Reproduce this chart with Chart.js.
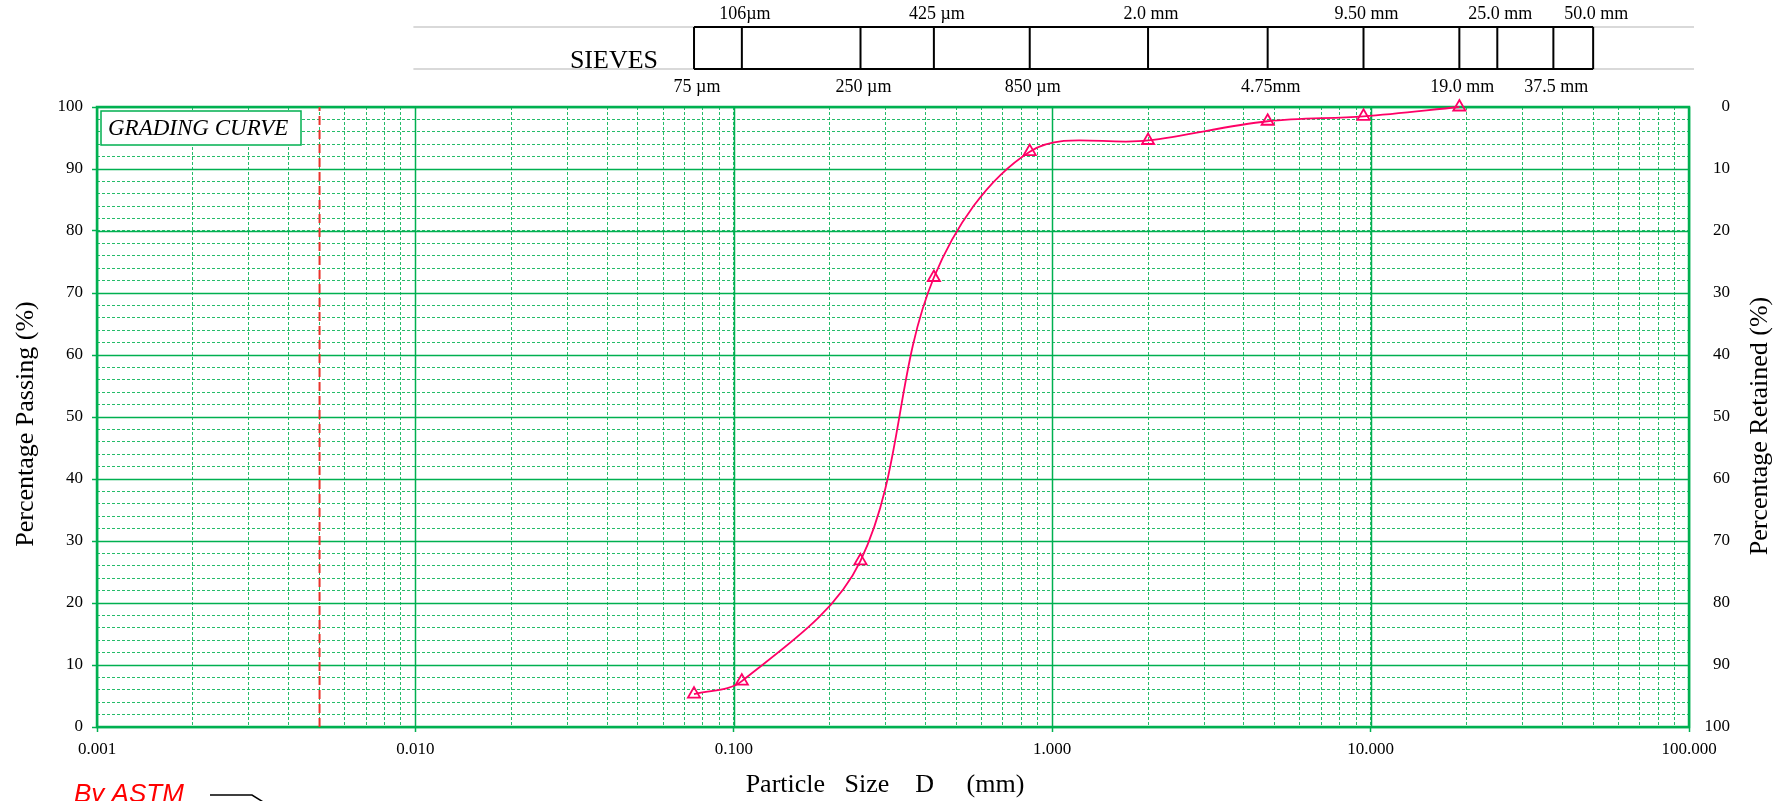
<!DOCTYPE html>
<html>
<head>
<meta charset="utf-8">
<script src="https://cdn.jsdelivr.net/npm/chart.js@4.4.1/dist/chart.umd.min.js"></script>
<style>
  html, body { margin: 0; padding: 0; background: #fff; }
  #wrap { width: 1785px; height: 801px; }
</style>
</head>
<body>
<div id="wrap"><canvas id="grading" width="1785" height="801"></canvas></div>
<script>
// sieve analysis result: particle size (mm) vs % passing
const particleSizes = [0.075, 0.106, 0.25, 0.425, 0.85, 2.0, 4.75, 9.5, 19.0];
const percentPassing = [5.3, 7.4, 26.8, 72.5, 92.8, 94.6, 97.7, 98.5, 100];

// sieve strip drawn above the plot (labels alternate below / above the strip)
const sieveSizes = [0.075, 0.106, 0.25, 0.425, 0.85, 2.0, 4.75, 9.5, 19.0, 25.0, 37.5, 50.0];
const sieveLabels = ['75 µm', '106µm', '250 µm', '425 µm', '850 µm', '2.0 mm', '4.75mm', '9.50 mm', '19.0 mm', '25.0 mm', '37.5 mm', '50.0 mm'];

// clay limit (red dashed line)
const clayLimitX = [0.005, 0.005];
const clayLimitY = [0, 100];

// axis ticks
const xDecades = [0.001, 0.01, 0.1, 1, 10, 100];
const xTickLabels = ['0.001', '0.010', '0.100', '1.000', '10.000', '100.000'];
const yMinorTicks = [0, 2, 4, 6, 8, 10, 12, 14, 16, 18, 20, 22, 24, 26, 28, 30, 32, 34, 36, 38, 40,
  42, 44, 46, 48, 50, 52, 54, 56, 58, 60, 62, 64, 66, 68, 70, 72, 74, 76, 78, 80,
  82, 84, 86, 88, 90, 92, 94, 96, 98, 100];
const yMajorTicks = [0, 10, 20, 30, 40, 50, 60, 70, 80, 90, 100];
const retainedTicks = [0, 10, 20, 30, 40, 50, 60, 70, 80, 90, 100];

const GREEN = '#00B050';
const CURVE = '#FF0066';
const SERIF = '"Liberation Serif", "Times New Roman", serif';

const isDecade = v => xDecades.some(d => Math.abs(d - v) < d * 1e-6);

// grid majors, frame, title box, sieve strip, axis titles
const decorations = {
    id: 'decorations',
    beforeDatasetsDraw(chart) {
        const { ctx, chartArea: a, scales: { x, y } } = chart;
        ctx.save();
        ctx.strokeStyle = GREEN;
        ctx.lineWidth = 1.5;
        ctx.beginPath();
        xDecades.forEach(v => {
            const px = Math.round(x.getPixelForValue(v)) + 0.5;
            ctx.moveTo(px, a.top);
            ctx.lineTo(px, a.bottom);
        });
        yMajorTicks.forEach(v => {
            const py = Math.round(y.getPixelForValue(v)) + 0.5;
            ctx.moveTo(a.left, py);
            ctx.lineTo(a.right, py);
        });
        ctx.stroke();

        ctx.lineWidth = 2.5;
        ctx.strokeRect(a.left, a.top, a.width, a.height);

        // GRADING CURVE label box
        ctx.fillStyle = '#fff';
        ctx.fillRect(a.left + 4, a.top + 4, 200, 34);
        ctx.lineWidth = 1.5;
        ctx.strokeRect(a.left + 4, a.top + 4, 200, 34);
        ctx.fillStyle = '#000';
        ctx.font = 'italic 23px ' + SERIF;
        ctx.textAlign = 'left';
        ctx.textBaseline = 'middle';
        ctx.fillText('GRADING CURVE', a.left + 11, a.top + 22);
        ctx.restore();
    },
    afterDraw(chart) {
        const { ctx, chartArea: a, scales: { x } } = chart;
        ctx.save();

        // sieve strip
        const top = a.top - 80, bottom = a.top - 38;
        ctx.strokeStyle = '#D9D9D9';
        ctx.lineWidth = 2;
        ctx.beginPath();
        ctx.moveTo(x.getPixelForValue(0.01) - 2, top);
        ctx.lineTo(a.right + 5, top);
        ctx.moveTo(x.getPixelForValue(0.01) - 2, bottom);
        ctx.lineTo(a.right + 5, bottom);
        ctx.stroke();

        const first = x.getPixelForValue(sieveSizes[0]);
        const last = x.getPixelForValue(sieveSizes[sieveSizes.length - 1]);
        ctx.strokeStyle = '#000';
        ctx.lineWidth = 2;
        ctx.beginPath();
        ctx.moveTo(first, top);
        ctx.lineTo(last, top);
        ctx.moveTo(first, bottom);
        ctx.lineTo(last, bottom);
        sieveSizes.forEach(s => {
            const px = x.getPixelForValue(s);
            ctx.moveTo(px, top);
            ctx.lineTo(px, bottom);
        });
        ctx.stroke();

        ctx.fillStyle = '#000';
        ctx.font = '18px ' + SERIF;
        ctx.textAlign = 'center';
        ctx.textBaseline = 'middle';
        sieveSizes.forEach((s, i) => {
            const py = i % 2 ? top - 13 : bottom + 18;
            ctx.fillText(sieveLabels[i], x.getPixelForValue(s) + 3, py);
        });

        ctx.font = '26px ' + SERIF;
        ctx.textBaseline = 'alphabetic';
        ctx.textAlign = 'right';
        ctx.fillText('SIEVES', 658, bottom - 1);

        // axis titles
        ctx.textAlign = 'center';
        ctx.textBaseline = 'middle';
        ctx.fillText('Particle   Size    D     (mm)', (a.left + a.right) / 2 - 8, 785);

        ctx.save();
        ctx.translate(26, 424);
        ctx.rotate(-Math.PI / 2);
        ctx.fillText('Percentage Passing (%)', 0, 0);
        ctx.restore();

        ctx.save();
        ctx.translate(1760, 426);
        ctx.rotate(-Math.PI / 2);
        ctx.fillText('Percentage Retained (%)', 0, 0);
        ctx.restore();

        // ASTM note with pointer
        ctx.fillStyle = '#FF0000';
        ctx.font = 'italic 26px "Liberation Sans", Arial, sans-serif';
        ctx.textAlign = 'left';
        ctx.textBaseline = 'alphabetic';
        ctx.fillText('By ASTM', 74, 802);
        ctx.strokeStyle = '#000';
        ctx.lineWidth = 1.5;
        ctx.beginPath();
        ctx.moveTo(210, 795);
        ctx.lineTo(252, 795);
        ctx.lineTo(268, 805);
        ctx.stroke();

        ctx.restore();
    }
};

new Chart(document.getElementById('grading'), {
    type: 'scatter',
    data: {
        datasets: [
            {
                label: 'Grading',
                data: particleSizes.map((s, i) => ({ x: s, y: percentPassing[i] })),
                showLine: true,
                borderColor: CURVE,
                borderWidth: 1.8,
                tension: 0.35,
                pointStyle: 'triangle',
                pointRadius: 7,
                pointBorderWidth: 1.8,
                pointBorderColor: CURVE,
                pointBackgroundColor: 'rgba(255,255,255,0)',
                clip: false,
                order: 1
            },
            {
                label: 'Clay limit',
                data: clayLimitX.map((s, i) => ({ x: s, y: clayLimitY[i] })),
                showLine: true,
                borderColor: '#E8322A',
                borderWidth: 2,
                borderDash: [9, 5],
                pointRadius: 0,
                order: 2
            }
        ]
    },
    options: {
        responsive: false,
        animation: false,
        layout: { padding: { top: 107, left: 0, right: 55, bottom: 0 } },
        plugins: { legend: { display: false }, tooltip: { enabled: false } },
        scales: {
            x: {
                type: 'logarithmic',
                min: 0.001,
                max: 100,
                afterBuildTicks(scale) {
                    const ticks = [];
                    for (let e = -3; e < 2; e++) {
                        for (let k = 1; k < 10; k++) ticks.push({ value: +(k * Math.pow(10, e)).toPrecision(3) });
                    }
                    ticks.push({ value: 100 });
                    scale.ticks = ticks;
                },
                afterFit(scale) { scale.height = 74; },
                grid: {
                    color: 'rgba(0,176,80,0.85)',
                    lineWidth: 1,
                    tickLength: 5,
                    tickColor: ctx => (ctx.tick && isDecade(ctx.tick.value)) ? GREEN : 'rgba(0,0,0,0)',
                    tickWidth: 1.5
                },
                border: { display: false, dash: [3, 2] },
                ticks: {
                    autoSkip: false,
                    maxRotation: 0,
                    padding: 7,
                    color: '#000',
                    font: { family: SERIF, size: 17 },
                    callback(value) {
                        const i = xDecades.findIndex(d => Math.abs(d - value) < d * 1e-6);
                        return i >= 0 ? xTickLabels[i] : '';
                    }
                }
            },
            y: {
                type: 'linear',
                position: 'left',
                min: 0,
                max: 100,
                afterBuildTicks(scale) { scale.ticks = yMinorTicks.map(v => ({ value: v })); },
                afterFit(scale) { scale.width = 97; },
                grid: {
                    color: 'rgba(0,176,80,0.85)',
                    lineWidth: 1,
                    tickLength: 5,
                    tickColor: ctx => (ctx.tick && yMajorTicks.includes(ctx.tick.value)) ? GREEN : 'rgba(0,0,0,0)',
                    tickWidth: 1.5
                },
                border: { display: false, dash: [3, 2] },
                ticks: {
                    autoSkip: false,
                    padding: 9,
                    color: '#000',
                    font: { family: SERIF, size: 17 },
                    callback: v => yMajorTicks.includes(v) ? String(v) : ''
                }
            },
            y2: {
                type: 'linear',
                position: 'right',
                reverse: true,
                min: 0,
                max: 100,
                afterBuildTicks(scale) { scale.ticks = retainedTicks.map(v => ({ value: v })); },
                afterFit(scale) { scale.width = 41; },
                grid: { drawOnChartArea: false, drawTicks: false },
                border: { display: false },
                ticks: {
                    crossAlign: 'far',
                    padding: 10,
                    color: '#000',
                    font: { family: SERIF, size: 17 }
                }
            }
        }
    },
    plugins: [decorations]
});
</script>
</body>
</html>
